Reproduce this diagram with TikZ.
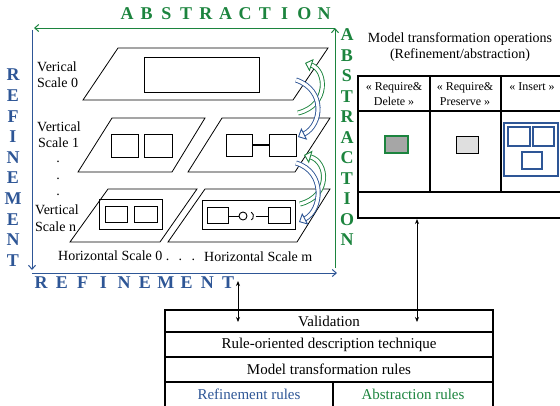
\documentclass[tikz,border=0pt]{standalone}
\usepackage{fontspec}
\setmainfont{Liberation Serif}
\usetikzlibrary{arrows.meta}
\definecolor{absgreen}{RGB}{28,132,62}
\definecolor{refblue}{RGB}{46,86,150}
\tikzset{
  plane/.style={draw, line width=0.8pt},
  box/.style={draw, line width=0.9pt},
  label/.style={font=\fontsize{14}{14}\selectfont, inner sep=0pt, anchor=west},
  letter/.style={font=\fontsize{18}{18}\selectfont\bfseries, inner sep=0pt},
  cell/.style={font=\fontsize{12}{15}\selectfont, align=center, inner sep=0pt},
  tabtext/.style={font=\fontsize{15}{15}\selectfont, inner sep=0pt},
  tabline/.style={draw, line width=1.5pt},
  axis/.style={line width=1pt, -{Straight Barb[length=4pt,width=7pt]}},
  turn/.style={line width=0.9pt, double=white, double distance=3.2pt,
    -{Triangle[open, fill=white, length=7pt, width=13pt]}}
}
\begin{document}
\begin{tikzpicture}[x=1pt,y=-1pt]
  %% Fix the page to the size of the reference.
  \useasboundingbox (0,0) rectangle (560,405);
  \clip (0,0) rectangle (560,405);

  %% Axes of the scale plane.
  \draw[axis, absgreen] (335,268) -- (335,28);
  \draw[axis, absgreen] (335,28) -- (34,28);
  \draw[axis, refblue] (32,30) -- (32,270);
  \draw[axis, refblue] (32,273) -- (337,273);

  %% Axis names, one letter at a time.
  \foreach \l [count=\i from 0] in {A,B,S,T,R,A,C,T,I,O,N}
    \node[letter, absgreen] (top\i) at (127+19.7*\i, 14) {\l};
  \foreach \l [count=\i from 0] in {A,B,S,T,R,A,C,T,I,O,N}
    \node[letter, absgreen] (right\i) at (347, 35+20.5*\i) {\l};
  \foreach \l [count=\i from 0] in {R,E,F,I,N,E,M,E,N,T}
    \node[letter, refblue] (left\i) at (13, 75+20.6*\i) {\l};
  \foreach \l [count=\i from 0] in {R,E,F,I,N,E,M,E,N,T}
    \node[letter, refblue] (bottom\i) at (41+20.8*\i, 283) {\l};

  %% Vertical scale 0.
  \draw[plane] (118,48) -- (328,48) -- (293,100) -- (83,100) -- cycle;
  \draw[box] (144,57) rectangle (259,92);
  \node[label] (vs0a) at (37,67) {Verical};
  \node[label] (vs0b) at (37,83) {Scale 0};

  %% Vertical scale 1.
  \draw[plane] (112,118) -- (205,118) -- (172,172) -- (78,172) -- cycle;
  \draw[box] (111,134) rectangle (138,157);
  \draw[box] (144,134) rectangle (172,157);
  \draw[plane] (222,118) -- (330,118) -- (295,172) -- (188,172) -- cycle;
  \draw[box] (226,134) rectangle (252,156);
  \draw[box] (269,134) rectangle (296,156);
  \draw[line width=1.6pt] (252,145) -- (269,145);
  \node[label] (vs1a) at (37,127) {Vertical};
  \node[label] (vs1b) at (38,143) {Scale 1};
  \foreach \y in {162,179,195}
    \node[label, anchor=center] at (58,\y) {.};

  %% Vertical scale n.
  \draw[plane] (108,189) -- (197,189) -- (160,242) -- (70,242) -- cycle;
  \draw[box] (99,199) rectangle (162,229);
  \draw[box] (105,206) rectangle (127,222);
  \draw[box] (134,206) rectangle (157,222);
  \draw[plane] (205,189) -- (330,189) -- (297,242) -- (168,242) -- cycle;
  \draw[box] (202,200) rectangle (295,229);
  \draw[box] (207,207) rectangle (228,223);
  \draw[box] (268,207) rectangle (290,223);
  \draw[box] (243,216) circle (4);
  \draw[box] (228,216) -- (239,216);
  \draw[box] (251.25,212.1) arc (-60:60:4.5);
  \draw[box] (255.5,216) -- (268,216);
  \node[label] (vsna) at (35,210) {Vertical};
  \node[label] (vsnb) at (35,227) {Scale n};

  %% Horizontal scales.
  \node[label] (hs0) at (58,256) {Horizontal Scale 0 .\,\, .\,\, .};
  \node[label] (hsm) at (204,257) {Horizontal Scale m};

  %% Abstraction and refinement moves between the scales.
  \draw[turn, absgreen] (298,113) .. controls (330,105) and (326,70) .. (305,63);
  \draw[turn, refblue] (296,80) .. controls (326,90) and (322,125) .. (298,137);
  \draw[turn, absgreen] (300,204) .. controls (331,196) and (328,162) .. (304,155);
  \draw[turn, refblue] (296,163) .. controls (326,172) and (322,210) .. (299,222);

  %% Model transformation operations.
  \node[font=\fontsize{14}{16}\selectfont, align=center, inner sep=0pt] (ops)
    at (460,47) {Model transformation operations\\(Refinement/abstraction)};
  \draw[tabline] (358,76) rectangle (570,218);
  \draw[tabline] (358,111) -- (570,111);
  \draw[tabline] (358,192) -- (570,192);
  \draw[tabline] (430,76) -- (430,192);
  \draw[tabline] (501,76) -- (501,192);
  \node[cell] (delete) at (394,94) {« Require\&\\Delete »};
  \node[cell] (preserve) at (465,94) {« Require\&\\Preserve »};
  \node[cell] (insert) at (532,87) {« Insert »};
  \draw[absgreen, line width=1.2pt, fill=gray!70] (385,136) rectangle (408,153);
  \draw[line width=0.8pt, fill=gray!25] (456,136) rectangle (478,153);
  \draw[refblue, line width=1.2pt] (504,123) rectangle (558,176);
  \draw[refblue, line width=1.2pt] (508,127) rectangle (530,146);
  \draw[refblue, line width=1.2pt] (533,127) rectangle (554,146);
  \draw[refblue, line width=1.2pt] (522,152) rectangle (542,169);

  %% Layers of the approach.
  \draw[tabline] (165,310) rectangle (493,412);
  \draw[tabline] (165,332) -- (493,332);
  \draw[tabline] (165,357) -- (493,357);
  \draw[tabline] (165,382) -- (493,382);
  \draw[tabline] (333,382) -- (333,412);
  \node[tabtext] (valid) at (329,321) {Validation};
  \node[tabtext] (rodt) at (329,345) {Rule-oriented description technique};
  \node[tabtext] (mtr) at (329,369) {Model transformation rules};
  \node[tabtext, refblue] (refrules) at (249,394) {Refinement rules};
  \node[tabtext, absgreen] (absrules) at (413,394) {Abstraction rules};

  %% Links to the validation layer.
  \coordinate (scaletip) at (238,281);
  \coordinate (scaleend) at (238,322);
  \coordinate (opstip) at (417,219);
  \coordinate (opsend) at (417,322);
  \draw[line width=1pt, {Stealth[length=5pt,width=4pt]}-{Stealth[length=5pt,width=4pt]}]
    (scaletip) -- (scaleend);
  \draw[line width=1pt, {Stealth[length=5pt,width=4pt]}-{Stealth[length=5pt,width=4pt]}]
    (opstip) -- (opsend);
\end{tikzpicture}
\end{document}
